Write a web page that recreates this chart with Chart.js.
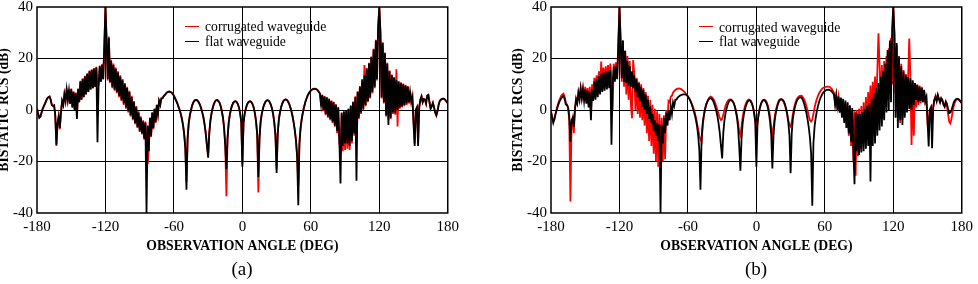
<!DOCTYPE html>
<html>
<head>
<meta charset="utf-8">
<script src="https://cdn.jsdelivr.net/npm/chart.js@4.4.1/dist/chart.umd.min.js"></script>
<style>
  body { margin: 0; width: 978px; height: 284px; background: #fff; overflow: hidden; position: relative; font-family: "Liberation Serif", "Times New Roman", serif; }
  canvas.panel { position: absolute; top: -10px; }
  #chartA { left: -25px; }
  #chartB { left: 489px; }
  .leg { position: absolute; font-size: 13.7px; line-height: 15px; color: #000; white-space: nowrap; }
  .sw { position: absolute; width: 14px; height: 0; border-top: 1.5px solid #000; }
  .cap { position: absolute; top: 258px; font-size: 19px; line-height: 22px; transform: translateX(-50%); }
</style>
</head>
<body>
<canvas id="chartA" class="panel" width="489" height="270"></canvas>
<canvas id="chartB" class="panel" width="489" height="270"></canvas>

<!-- legends -->
<div class="sw" style="left:185px;top:26px;border-color:#f00"></div>
<div class="leg" style="left:205px;top:19px">corrugated waveguide</div>
<div class="sw" style="left:185px;top:40.5px"></div>
<div class="leg" style="left:205px;top:33.5px">flat waveguide</div>

<div class="sw" style="left:699px;top:26px;border-color:#f00"></div>
<div class="leg" style="left:719px;top:19.5px">corrugated waveguide</div>
<div class="sw" style="left:699px;top:41px"></div>
<div class="leg" style="left:719px;top:34px">flat waveguide</div>

<div class="cap" style="left:242px">(a)</div>
<div class="cap" style="left:756px">(b)</div>

<script>
// observation angles (deg)
const angles = [
  -180,-179,-178,-177,-176,-175,-174,-173,-172,-171,-170,-169,-168,-167,-166,-165,-164,-163,-162,-161,
  -160,-159,-158,-157,-156,-155,-154,-153,-152,-151,-150,-149,-148,-147,-146,-145,-144,-143,-142,-141,
  -140,-139,-138,-137,-136,-135,-134,-133,-132,-131,-130,-129,-128,-127,-126,-125,-124,-123,-122,-121,
  -120,-119,-118,-117,-116,-115,-114,-113,-112,-111,-110,-109,-108,-107,-106,-105,-104,-103,-102,-101,
  -100,-99,-98,-97,-96,-95,-94,-93,-92,-91,-90,-89,-88,-87,-86,-85,-84,-83,-82,-81,
  -80,-79,-78,-77,-76,-75,-74,-73,-72,-71,-70,-69,-68,-67,-66,-65,-64,-63,-62,-61,
  -60,-59,-58,-57,-56,-55,-54,-53,-52,-51,-50,-49,-48,-47,-46,-45,-44,-43,-42,-41,
  -40,-39,-38,-37,-36,-35,-34,-33,-32,-31,-30,-29,-28,-27,-26,-25,-24,-23,-22,-21,
  -20,-19,-18,-17,-16,-15,-14,-13,-12,-11,-10,-9,-8,-7,-6,-5,-4,-3,-2,-1,
  0,1,2,3,4,5,6,7,8,9,10,11,12,13,14,15,16,17,18,19,
  20,21,22,23,24,25,26,27,28,29,30,31,32,33,34,35,36,37,38,39,
  40,41,42,43,44,45,46,47,48,49,50,51,52,53,54,55,56,57,58,59,
  60,61,62,63,64,65,66,67,68,69,70,71,72,73,74,75,76,77,78,79,
  80,81,82,83,84,85,86,87,88,89,90,91,92,93,94,95,96,97,98,99,
  100,101,102,103,104,105,106,107,108,109,110,111,112,113,114,115,116,117,118,119,
  120,121,122,123,124,125,126,127,128,129,130,131,132,133,134,135,136,137,138,139,
  140,141,142,143,144,145,146,147,148,149,150,151,152,153,154,155,156,157,158,159,
  160,161,162,163,164,165,166,167,168,169,170,171,172,173,174,175,176,177,178,179,
  180
];

// (a) flat waveguide, bistatic RCS (dB)
const flatA = [
  0.5,-1.5,-3,-2.5,-1,0.5,1.5,2.5,3.5,4.5,5,5.2,4,2,1.5,1.8,-2,-13.5,-5,-2.5,
  -7,-1,3.5,2,6,3.5,8,4,7.5,2.5,8,1,7,0,6.5,-3.5,8,3,11,4,
  12,5,13,6,14,7,15,8,15.5,8.5,16,9,16.5,-12.5,10,17,11,17.5,12,25,
  40,27,12,28,11,19,9,17.5,8,16,7,14.5,5.5,13,4,11.5,2.5,10,1,8.5,
  -0.5,7,-2,5,-3.5,3,-5,1,-6.5,-1,-8,-3,-9,-4.5,-11,-5,-40,-6,-16,-3,
  -10,-1,-7,0.5,-4.5,2,-1.5,3.5,2,4.5,4.5,5.3,5.8,6.3,6.8,7,7.1,7,6.7,6.2,
  5.5,4.5,3.5,2.5,1.2,0,-1.5,-3.5,-6,-9.5,-15,-31,-11,-5,-2,0,1.8,2.9,3.6,3.9,
  3.9,3.5,2.8,1.8,0.5,-1.2,-3.2,-6,-9.5,-14,-18.5,-9,-4,-1.2,0.8,2.3,3.3,3.8,3.9,3.5,
  2.8,1.5,-0.5,-3,-7,-14,-23,-11,-5,-1.8,0.3,1.8,2.8,3.3,3.4,3.1,2.3,1,-1.2,-4.5,
  -22,-5,-1.5,0.5,2,2.9,3.3,3.4,3,2.2,0.8,-1.3,-4.5,-9.5,-26,-11,-4.5,-1.5,0.5,2,
  3,3.6,3.8,3.6,3,2,0.5,-1.7,-5,-10,-24.5,-9,-3.5,-0.8,1.2,2.6,3.5,4,4.1,3.9,
  3.3,2.4,1.1,-0.5,-2.5,-5,-8,-12,-18,-37,-13,-7,-3.5,-1,1,2.8,4.2,5.4,6.3,7,
  7.5,7.9,8.1,8.2,8.2,8,7.6,7,6.3,2,5.8,0,5.2,-1.5,4.8,-2.5,4.2,-3.5,3.5,-4.5,
  3,-6,2,-8,1,-12,-28.5,-1,-14,-0.5,-13,0,-13,0.5,-14,1.5,-12,3,-9,5,
  -27.5,7,-3,9,-1,11.5,0.5,13.5,2,16,3.5,18,5,20.5,7,23.5,9,27,12,32,
  40,30,5,26,3,22,-2,18,-5.8,15,-3,13.5,-1,12.5,-1.3,11.6,0,11,1,10.5,
  1.5,10,2,9.5,2.5,9,3,7,3.5,5,-5,-14,0,1,-14,1,4,5.2,3,4.2,
  4,2.5,5.5,5.8,3,0.5,1.5,2.7,1,-1,-2,-0.5,2,3.5,4,4.3,4.4,4.3,3.8,3.2,
  2.7
];

// (a) corrugated waveguide
const corrA = [
  0.5,-1.5,-3,-2.5,-1,0.5,1.5,2.5,3.5,4.5,5,5.3,4,2,1.5,1.8,-2,-14,-5.5,-2.5,
  -7.5,-1,3.5,2,6.2,3.5,8.3,4,7.8,2.5,8.3,1,7.3,0,6.8,-3,8.3,3,11.3,4,
  12.3,5,13.3,6,14.3,7,15.3,8,15.8,8.5,16.3,9,16.8,10.5,10,17.3,11,17.8,12,25,
  40,27.5,11.5,28.5,10.5,19.5,8.5,18,7.5,16.5,6.5,15,5,13.5,3.5,12,2,10.5,0.5,9,
  -1,7.5,-2.5,5.5,-4,3.5,-5.5,1.5,-7,-0.5,-8.5,-2.5,-9.5,-4,-11.5,-4.5,-12,-21,-15,-3,
  -10.5,-1,-7.5,0.5,-5,2,-1.5,3.5,2,4.5,4.6,5.4,5.9,6.4,6.9,7.1,7.2,7.1,6.8,6.3,
  5.6,4.6,3.6,2.6,1.3,0.1,-1.4,-3.4,-5.8,-9.2,-14.5,-28,-11,-5,-2,0,1.8,2.9,3.6,3.9,
  3.9,3.5,2.8,1.8,0.5,-1.2,-3.2,-6,-9.5,-14,-17.5,-9,-4,-1.2,0.8,2.3,3.3,3.8,3.9,3.5,
  2.8,1.5,-0.5,-3,-7,-14,-33.5,-11,-5,-1.8,0.3,1.8,2.8,3.3,3.4,3.1,2.3,1,-1.2,-4.5,
  -21,-5,-1.5,0.5,2,2.9,3.3,3.4,3,2.2,0.8,-1.3,-4.5,-9.5,-32,-11,-4.5,-1.5,0.5,2,
  3,3.6,3.8,3.6,3,2,0.5,-1.7,-5,-10,-23,-9,-3.5,-0.8,1.2,2.6,3.5,4,4.1,3.9,
  3.3,2.4,1.1,-0.5,-2.5,-5,-8,-12,-18,-29,-13,-7,-3.5,-1,1,2.8,4.2,5.4,6.3,7,
  7.6,8,8.2,8.3,8.3,8.1,7.7,7.1,6.4,1.5,6,-0.5,5.4,-2,5,-3,4.4,-4,3.7,-5,
  3.2,-6.5,2.2,-9,1.2,-13,-16,-1.5,-16,-1,-15.5,-0.5,-15,0.5,-15.5,1.8,-13,3.3,-10,5.3,
  -14,7.3,-3.5,9.3,-1.5,12,0,17.5,1.5,16.3,3,18.3,4.5,20.8,6.5,23.8,8.5,27.3,11.5,32,
  40,30.5,4.5,26.3,2.5,22.3,-2.5,18.3,-4,15.3,-3.5,13.8,-1.5,12.8,-1.8,15.8,-6.4,11.3,0.5,10.8,
  1,10.3,1.5,9.8,2,9.3,2.5,7.3,3,5.3,-4.5,-13,0,1,-13,1,4,5.3,3,4.3,
  4.1,2.5,5.6,5.9,3,0.5,1.5,2.8,1,-1,-2.2,-0.5,2,3.5,4,4.3,4.4,4.3,3.8,3.2,
  2.7
];

// (b) flat waveguide
const flatB = [
  -0.8,-3,-5,-3.5,-1.5,0,1.5,2.8,3.8,4.6,5.2,5.5,4.2,2.2,1.9,1,-2.5,-12.3,-4,-3,
  -6.5,0.5,4,2.5,6.5,4,8.3,4.5,7.8,3.5,8,2.5,7.5,1,7,-4,8,3.5,11,4,
  12,5,13,6,14,7,14.5,7.5,15,8,15,8.5,15.5,-13.5,10,16.8,11,17,12,25,
  40,27,12.3,27,11,23,10.5,19,9.5,17,9,15,8.5,13.5,7,12,5,10.5,3.5,9,
  1.3,7.8,0,6,-1.5,4,-3.5,1.3,-5,-1.5,-8,-4,-10,-5,-12,-5.5,-40,-6,-13,-3,
  -9,-1,-6,0,-4,1.5,-1.5,3,1.5,4,4,4.8,5.2,5.6,5.8,6,6.1,6.1,6,5.8,
  5.3,4.6,3.7,2.6,1.3,-0.2,-1.8,-3.8,-6.3,-10,-15.5,-31,-11,-5,-2,0.2,2,3.2,4,4.5,
  4.6,4.3,3.6,2.5,1.1,-0.6,-2.8,-5.6,-9.3,-14,-18.8,-9,-4,-1.2,0.8,2.3,3.3,3.8,3.9,3.5,
  2.8,1.5,-0.5,-3,-7,-14.5,-23.6,-11,-5,-1.8,0.3,1.8,3,3.6,3.8,3.5,2.6,1.2,-1.1,-4.5,
  -22,-5,-1.5,0.7,2.3,3.3,3.8,3.8,3.4,2.5,1,-1.2,-4.5,-9.5,-22.7,-10,-4.2,-1.2,0.8,2.4,
  3.5,4,4.2,4,3.4,2.3,0.7,-1.5,-4.8,-10,-24.6,-9,-3.3,-0.5,1.5,3,4,4.6,4.9,4.9,
  4.5,3.6,2.2,0.5,-1.5,-4,-7,-11,-17,-37.2,-13,-6.5,-3,-0.5,1.5,3.2,4.5,5.5,6.3,7,
  7.4,7.7,7.8,7.9,7.8,7.6,7.2,6.6,6,2,5.5,0,5.2,-1,4.8,-3,4.3,-5,3.7,-7,
  3,-9,1.8,-12.3,0.8,-15,-28.8,-1,-16,-1.5,-17.5,-1.6,-16.5,-0.9,-16,0.5,-15,1.5,-14,2.7,
  -27.8,4.5,-14,6.5,-13,8.5,-10,10.5,-8,12.9,-6.4,15,-4,18,-1,23.3,0,27,3,32,
  40,30,-3,26,-7,20.7,-4,17,-5.8,14.9,-3,13.5,-1,12.8,0.4,12.3,0,11.5,2,10.5,
  3.9,9.7,3,9,3.5,8.5,3,7.8,3.5,5,-4,-14.2,0,1,-14.8,1,4,5,3.5,5.8,
  4.5,3,4.5,4,2,1.3,3.2,2.5,0.5,-1.2,-1,0,1.5,3,3.8,4.2,4.3,4.2,3.8,3.2,
  2.7
];

// (b) corrugated waveguide
const corrB = [
  -0.5,-2.5,-4.5,-3.5,-1.5,0.5,2,3.5,4.5,5.5,6,6.3,5,3,2,1,-4,-35.5,-6,-3.5,
  -9,0,4.5,3,7,4.5,8.5,5,8.5,4,9,3,8.5,2,9,-1,10,5,12.5,6,
  13.5,7,15,8,18.8,9,16.5,9.5,17,10,17.5,11,18,11.5,0,18,12,18.5,13,26,
  40,28,11,27,9,23,6,21,4,19,2,-3.2,19.4,14,0,12.5,-1.5,11,-3,10,
  -4,8.5,-6,7,-9,5.5,-12,4,-14,2,-17,0.5,-20,-0.5,-22,-1.5,-21,-3,-20,-2,
  -19,0,-6,3.5,3,5.2,5.5,6.8,7.3,7.8,8.1,8.3,8.4,8.3,8.1,7.8,7.4,7,6.5,5.9,
  5.2,4.5,3.7,2.8,1.7,0.5,-1,-2.8,-5,-7.5,-10,-11.5,-12.3,-6,-2,0.5,2.2,3.4,4.3,4.9,
  5.2,5,4.5,3.7,2.6,1.3,-0.2,-1.8,-3.2,-3.9,-3.5,-1.8,0,1.6,2.8,3.6,4,4.1,4,3.6,
  2.8,1.6,0,-2.2,-5,-8.5,-9.7,-6.5,-2.8,-0.3,1.5,2.8,3.6,4,4,3.6,2.7,1.2,-1,-4,
  -8.4,-5,-1.5,0.8,2.4,3.4,3.9,4,3.7,3,1.8,0,-2.8,-6.5,-9.7,-7,-3,-0.3,1.6,3,
  3.9,4.2,4.1,3.7,3,1.8,0.2,-1.8,-4,-6,-6.5,-4.5,-1.5,0.8,2.5,3.8,4.7,5.2,5.5,5.6,
  5.4,4.8,4,2.8,1.3,-0.5,-2.5,-4,-4.5,-3.8,-1.5,0.8,2.8,4.3,5.5,6.5,7.3,7.9,8.4,8.7,
  8.9,9,9.1,9.1,9,8.7,8.2,7.5,6.8,3,6,1.5,5,0,4.5,-2,3.5,-4,2.5,-7,
  1.5,-10,0.5,-14,0,-20,-0.5,-25.5,0,-18,0.5,-15,1.5,-13,3,-10,5,-7,7,-4,
  9.5,-3,11,-2,13,0,15,29.8,17,3,17.5,-3.2,19,4,21,5,24,8,28,10,
  40,29,6,25,-3,21,-5,18,-4,15.5,-2,14,0,13,27.8,12,-13.6,11,-10,10.5,
  1,10,2,9.5,2.5,9,3,7.5,3,4.5,-5,-4,0,1,-5,1,4,5.5,3.5,5.8,
  4,3,4.5,3.5,2.5,1.3,3.2,1.5,-1.5,-4.5,-5.2,-3.5,-0.5,1.5,3,3.9,4.2,4.2,3.8,3.2,
  2.7
];

const xTicks = [-180, -120, -60, 0, 60, 120, 180];
const yTicks = [-40, -20, 0, 20, 40];

const serif = '"Liberation Serif", "Times New Roman", serif';

// frame around the plot area
const framePlugin = {
  id: 'frame',
  afterDatasetsDraw(chart) {
    const { ctx, chartArea: a } = chart;
    ctx.save();
    ctx.strokeStyle = '#000';
    ctx.lineWidth = 1.5;
    ctx.strokeRect(a.left, a.top, a.right - a.left, a.bottom - a.top);
    ctx.restore();
  }
};

function points(vals) {
  return angles.map((a, i) => ({ x: a, y: vals[i] }));
}

function makePanel(id, flat, corr) {
  const ctx = document.getElementById(id).getContext('2d');
  return new Chart(ctx, {
    type: 'line',
    data: {
      datasets: [
        { label: 'flat waveguide', data: points(flat), borderColor: '#000', borderWidth: 1.8, pointRadius: 0, tension: 0 },
        { label: 'corrugated waveguide', data: points(corr), borderColor: '#f00', borderWidth: 1.8, pointRadius: 0, tension: 0 }
      ]
    },
    options: {
      responsive: false,
      animation: false,
      devicePixelRatio: 1,
      layout: { padding: { top: 17, right: 16, bottom: 4, left: 0 } },
      plugins: { legend: { display: false }, tooltip: { enabled: false } },
      scales: {
        x: {
          type: 'linear',
          min: xTicks[0],
          max: xTicks[xTicks.length - 1],
          afterBuildTicks: s => { s.ticks = xTicks.map(v => ({ value: v })); },
          afterFit: s => { s.height = 43; },
          ticks: { color: '#000', padding: 5, maxRotation: 0, font: { family: serif, size: 15 }, callback: v => String(v) },
          grid: {
            drawTicks: false,
            lineWidth: 1,
            color: c => (c.tick && Math.abs(c.tick.value) === 180) ? 'rgba(0,0,0,0)' : '#000'
          },
          border: { display: false },
          title: {
            display: true,
            text: 'OBSERVATION ANGLE (DEG)',
            color: '#000',
            font: { family: serif, size: 13.7, weight: 'bold' },
            padding: { top: 0, bottom: 1.8 }
          }
        },
        y: {
          min: yTicks[0],
          max: yTicks[yTicks.length - 1],
          afterBuildTicks: s => { s.ticks = yTicks.map(v => ({ value: v })); },
          afterFit: s => { s.width = 62; },
          ticks: { color: '#000', padding: 4, font: { family: serif, size: 15 }, callback: v => String(v) },
          grid: {
            drawTicks: false,
            lineWidth: 1,
            color: c => (c.tick && Math.abs(c.tick.value) === 40) ? 'rgba(0,0,0,0)' : '#000'
          },
          border: { display: false },
          title: {
            display: true,
            text: 'BISTATIC RCS (dB)',
            color: '#000',
            font: { family: serif, size: 13.7, weight: 'bold' },
            padding: { top: 20.8, bottom: 0 }
          }
        }
      }
    },
    plugins: [framePlugin]
  });
}

makePanel('chartA', flatA, corrA);
makePanel('chartB', flatB, corrB);
</script>
</body>
</html>
